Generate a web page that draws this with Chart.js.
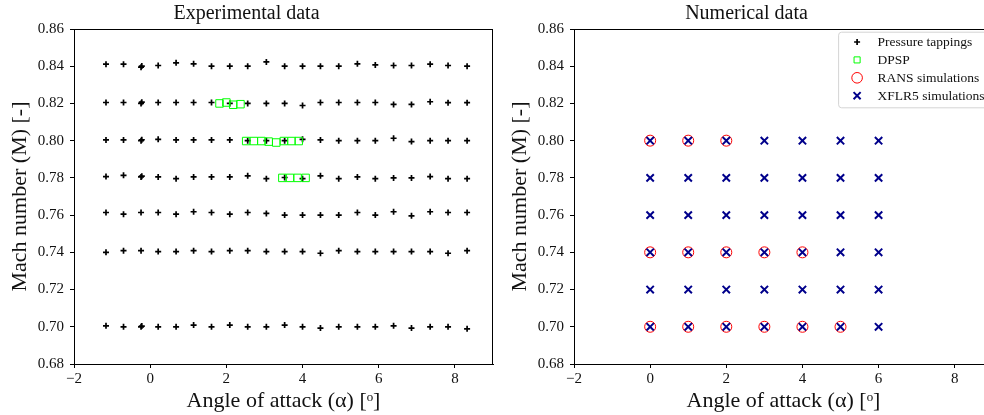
<!DOCTYPE html>
<html>
<head>
<meta charset="utf-8">
<script src="https://cdn.jsdelivr.net/npm/chart.js@4.4.1/dist/chart.umd.min.js"></script>
<style>
    html, body { margin: 0; padding: 0; background: #fff; overflow: hidden; width: 984px; height: 415px; }
    canvas { position: absolute; top: 0; }
    #exp { left: 0; }
    #num { left: 500px; }
</style>
</head>
<body>
<canvas id="exp" width="500" height="415"></canvas>
<canvas id="num" width="500" height="415"></canvas>
<script>
// Axis ticks
const alphaTicks = [-2, 0, 2, 4, 6, 8];
const machTicks = [0.68, 0.70, 0.72, 0.74, 0.76, 0.78, 0.80, 0.82, 0.84, 0.86];

// Experimental: pressure tappings, one Mach row per sweep
const tapAlpha = [-1.16, -0.70, -0.24, 0.21, 0.68, 1.14, 1.61, 2.09, 2.56, 3.05, 3.53,
    4.00, 4.47, 4.95, 5.44, 5.91, 6.39, 6.86, 7.35, 7.82, 8.32];
const tapMach84 = [0.8411, 0.8411, 0.8395, 0.8404, 0.8418, 0.8413, 0.8400, 0.8400, 0.8400, 0.8423, 0.8400,
    0.8400, 0.8400, 0.8400, 0.8413, 0.8407, 0.8404, 0.8404, 0.8411, 0.8404, 0.8400];
const tapMach82 = [0.8205, 0.8205, 0.8200, 0.8205, 0.8205, 0.8205, 0.8205, 0.8200, 0.8200, 0.8200, 0.8200,
    0.8189, 0.8205, 0.8205, 0.8205, 0.8205, 0.8195, 0.8195, 0.8209, 0.8204, 0.8204];
const tapMach80 = [0.8004, 0.8004, 0.8000, 0.8007, 0.8004, 0.8004, 0.8004, 0.8004, 0.8000, 0.8000, 0.8000,
    0.8007, 0.8004, 0.8000, 0.8000, 0.8000, 0.8013, 0.7995, 0.8000, 0.8000, 0.8000];
const tapMach78 = [0.7807, 0.7814, 0.7805, 0.7805, 0.7796, 0.7805, 0.7805, 0.7805, 0.7811, 0.7796, 0.7802,
    0.7796, 0.7811, 0.7796, 0.7805, 0.7796, 0.7800, 0.7800, 0.7807, 0.7796, 0.7796];
const tapMach76 = [0.7614, 0.7605, 0.7614, 0.7614, 0.7605, 0.7618, 0.7614, 0.7605, 0.7614, 0.7609, 0.7600,
    0.7600, 0.7600, 0.7600, 0.7614, 0.7600, 0.7618, 0.7596, 0.7618, 0.7614, 0.7614];
const tapMach74 = [0.7400, 0.7409, 0.7409, 0.7404, 0.7404, 0.7409, 0.7404, 0.7409, 0.7409, 0.7404, 0.7404,
    0.7404, 0.7395, 0.7409, 0.7404, 0.7404, 0.7404, 0.7404, 0.7404, 0.7395, 0.7409];
const tapMach70 = [0.7005, 0.7000, 0.7000, 0.7000, 0.7000, 0.7009, 0.7000, 0.7009, 0.7000, 0.7000, 0.7009,
    0.7000, 0.6993, 0.7000, 0.7000, 0.7000, 0.7005, 0.6993, 0.7000, 0.7000, 0.6989];
// repeated runs near alpha = -0.2 (the bolder crosses)
const repeatAlpha = [-0.22, -0.22, -0.22, -0.22, -0.22];
const repeatMach = [0.8401, 0.8207, 0.8005, 0.7809, 0.7004];

// Experimental: DPSP
const dpspAlpha = [1.82, 2.00, 2.18, 2.37,
    2.52, 2.72, 2.92, 3.11, 3.31, 3.51, 3.71, 3.90,
    3.47, 3.67, 3.87, 4.08];
const dpspMach = [0.8200, 0.8205, 0.8193, 0.8196,
    0.7998, 0.7998, 0.7998, 0.7995, 0.7990, 0.7998, 0.7998, 0.7998,
    0.7800, 0.7800, 0.7800, 0.7800];

// Numerical
const xflrAlpha = [0, 1, 2, 3, 4, 5, 6];
const xflrMach = [0.70, 0.72, 0.74, 0.76, 0.78, 0.80];
const ransAlpha80 = [0, 1, 2];
const ransAlpha74 = [0, 1, 2, 3, 4];
const ransAlpha70 = [0, 1, 2, 3, 4, 5];

const SERIF = '"Liberation Serif", "Times New Roman", serif';
const INK = '#111';
const CLEAR = 'rgba(0,0,0,0)';

const tapRows = [tapMach84, tapMach82, tapMach80, tapMach78, tapMach76, tapMach74, tapMach70];
const tapPoints = [];
tapRows.forEach((row) => row.forEach((m, i) => tapPoints.push({ x: tapAlpha[i], y: m })));
repeatAlpha.forEach((a, i) => tapPoints.push({ x: a, y: repeatMach[i] }));

const dpspPoints = dpspAlpha.map((a, i) => ({ x: a, y: dpspMach[i] }));

const xflrPoints = [];
xflrMach.forEach((m) => xflrAlpha.forEach((a) => xflrPoints.push({ x: a, y: m })));

const ransPoints = [
    ...ransAlpha80.map((a) => ({ x: a, y: 0.80 })),
    ...ransAlpha74.map((a) => ({ x: a, y: 0.74 })),
    ...ransAlpha70.map((a) => ({ x: a, y: 0.70 })),
];

const styles = {
    tap: { pointStyle: 'cross', pointRadius: 3, pointBorderWidth: 1.7, pointBorderColor: '#000', pointBackgroundColor: CLEAR },
    dpsp: { pointStyle: 'rect', pointRadius: 5.3, pointBorderWidth: 1, pointBorderColor: '#00ff00', pointBackgroundColor: CLEAR },
    rans: { pointStyle: 'circle', pointRadius: 5.5, pointBorderWidth: 1, pointBorderColor: '#ff0000', pointBackgroundColor: CLEAR },
    xflr: { pointStyle: 'crossRot', pointRadius: 5.2, pointBorderWidth: 2, pointBorderColor: '#00008b', pointBackgroundColor: CLEAR },
};

function fmtAlpha(v) {
    return v < 0 ? '\u2212' + Math.abs(v) : String(v);
}

function buildScales() {
    return {
        x: {
            type: 'linear',
            min: -2,
            max: 9,
            afterBuildTicks: (s) => { s.ticks = alphaTicks.map((v) => ({ value: v })); },
            afterFit: (s) => { s.height = 51; },
            grid: { drawOnChartArea: false, drawTicks: true, tickLength: 4, color: '#000', lineWidth: 1 },
            border: { display: true, color: '#000', width: 1 },
            ticks: { color: INK, font: { family: SERIF, size: 15 }, padding: 2, maxRotation: 0, callback: (v) => fmtAlpha(v) },
            title: { display: true, text: 'Angle of attack (\u03b1) [\u1d52]', color: INK, font: { family: SERIF, size: 22 }, padding: { top: 0, bottom: 1 } },
        },
        y: {
            type: 'linear',
            min: 0.68,
            max: 0.86,
            afterBuildTicks: (s) => { s.ticks = machTicks.map((v) => ({ value: v })); },
            afterFit: (s) => { s.width = 74; },
            grid: { drawOnChartArea: false, drawTicks: true, tickLength: 4, color: '#000', lineWidth: 1 },
            border: { display: true, color: '#000', width: 1 },
            ticks: { color: INK, font: { family: SERIF, size: 15 }, padding: 6, callback: (v) => Number(v).toFixed(2) },
            title: { display: true, text: 'Mach number (M) [-]', color: INK, font: { family: SERIF, size: 22 }, padding: { top: 7, bottom: 7 } },
        },
    };
}

// top and right spines
const frame = {
    id: 'frame',
    afterDatasetsDraw(chart) {
        const { ctx, chartArea: a } = chart;
        ctx.save();
        ctx.strokeStyle = '#000';
        ctx.lineWidth = 1;
        ctx.beginPath();
        ctx.moveTo(a.left, a.top + 0.5);
        ctx.lineTo(a.right, a.top + 0.5);
        ctx.moveTo(a.right - 0.5, a.top);
        ctx.lineTo(a.right - 0.5, a.bottom);
        ctx.stroke();
        ctx.restore();
    },
};

// matplotlib-like legend box in the upper right of the plot area
const legendBox = {
    id: 'legendBox',
    afterDraw(chart) {
        const { ctx, chartArea: a } = chart;
        const left = a.right - 154.7;
        const top = a.top + 2.7;
        const right = a.right - 4.5;
        const bottom = a.top + 78.3;
        ctx.save();
        ctx.beginPath();
        ctx.roundRect(left + 0.5, top + 0.5, right - left, bottom - top, 3);
        ctx.fillStyle = 'rgba(255,255,255,0.8)';
        ctx.fill();
        ctx.strokeStyle = '#d4d4d4';
        ctx.lineWidth = 1;
        ctx.stroke();

        const legendSizes = { cross: 3, rect: 4.3, circle: 5.3, crossRot: 5 };
        chart.data.datasets.forEach((ds, i) => {
            const y = top + 10.3 + i * 17.9;
            const x = left + 19;
            ctx.strokeStyle = ds.pointBorderColor;
            ctx.fillStyle = CLEAR;
            ctx.lineWidth = ds.pointBorderWidth;
            Chart.helpers.drawPoint(ctx, {
                pointStyle: ds.pointStyle,
                radius: legendSizes[ds.pointStyle],
                rotation: 0,
                borderWidth: ds.pointBorderWidth,
            }, x, y);
            ctx.fillStyle = INK;
            ctx.font = `13.5px ${SERIF}`;
            ctx.textBaseline = 'middle';
            ctx.textAlign = 'left';
            ctx.fillText(ds.label, left + 39.4, y + 0.5);
        });
        ctx.restore();
    },
};

function baseOptions(title) {
    return {
        responsive: false,
        devicePixelRatio: 1,
        animation: false,
        events: [],
        layout: { padding: { left: 0, right: 7, top: 0, bottom: 0 } },
        scales: buildScales(),
        plugins: {
            legend: { display: false },
            tooltip: { enabled: false },
            title: { display: true, text: title, color: INK, font: { family: SERIF, size: 20, weight: 'normal' }, padding: { top: 2, bottom: 3 } },
        },
    };
}

new Chart(document.getElementById('exp'), {
    type: 'scatter',
    data: {
        datasets: [
            { label: 'DPSP', data: dpspPoints, ...styles.dpsp, order: 0 },
            { label: 'Pressure tappings', data: tapPoints, ...styles.tap, order: 1 },
        ],
    },
    options: baseOptions('Experimental data'),
    plugins: [frame],
});

new Chart(document.getElementById('num'), {
    type: 'scatter',
    data: {
        datasets: [
            { label: 'Pressure tappings', data: [], ...styles.tap, order: 3 },
            { label: 'DPSP', data: [], ...styles.dpsp, order: 2 },
            { label: 'RANS simulations', data: ransPoints, ...styles.rans, order: 1 },
            { label: 'XFLR5 simulations', data: xflrPoints, ...styles.xflr, order: 0 },
        ],
    },
    options: baseOptions('Numerical data'),
    plugins: [frame, legendBox],
});
</script>
</body>
</html>
